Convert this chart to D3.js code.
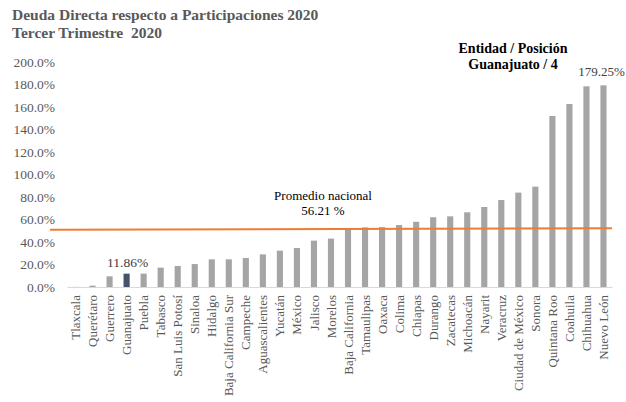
<!DOCTYPE html>
<html>
<head>
<meta charset="utf-8">
<script src="https://cdn.jsdelivr.net/npm/d3@7"></script>
<style>
  body { margin: 0; background: #fff; }
</style>
</head>
<body>
<div class="container"></div>
<script>
var estados = ["Tlaxcala", "Querétaro", "Guerrero", "Guanajuato", "Puebla", "Tabasco",
  "San Luis Potosí", "Sinaloa", "Hidalgo", "Baja California Sur", "Campeche",
  "Aguascalientes", "Yucatán", "México", "Jalisco", "Morelos", "Baja California",
  "Tamaulipas", "Oaxaca", "Colima", "Chiapas", "Durango", "Zacatecas", "Michoacán",
  "Nayarit", "Veracruz", "Ciudad de México", "Sonora", "Quintana Roo", "Coahuila",
  "Chihuahua", "Nuevo León"];
var valores = [0.1, 1.2, 9.5, 11.86, 11.9, 17.2, 18.7, 20.4, 24.6, 24.6, 25.8,
  29.0, 32.3, 34.7, 41.2, 43.0, 51.6, 53.0, 53.2, 55.1, 58.0, 62.0, 62.8, 66.4,
  71.1, 77.3, 83.9, 89.2, 152.0, 162.7, 178.4, 179.25];
var yTicks = [0, 20, 40, 60, 80, 100, 120, 140, 160, 180, 200];
var promedio = 56.21;
var lineaPromedio = 51.8; // where the orange line sits in the picture

var serif = "'Liberation Serif', 'Times New Roman', serif";
var width = 626, height = 402;
var margin = {top: 62, right: 14, bottom: 115, left: 67};

var svg = d3.select("div.container").append("svg")
    .attr("width", width)
    .attr("height", height)
    .attr("font-family", serif);

var x = d3.scaleBand()
    .domain(estados)
    .range([margin.left, width - margin.right])
    .paddingInner(0.64)
    .paddingOuter(0.32);

var y = d3.scaleLinear()
    .domain([0, 200])
    .range([height - margin.bottom, margin.top]);

// title
svg.append("text").attr("x", 12).attr("y", 20)
    .attr("font-size", 15.5).attr("font-weight", "bold").attr("fill", "#595959")
    .text("Deuda Directa respecto a Participaciones 2020");
svg.append("text").attr("x", 12).attr("y", 38)
    .attr("font-size", 15.5).attr("font-weight", "bold").attr("fill", "#595959")
    .attr("xml:space", "preserve")
    .text("Tercer Trimestre  2020");

// y axis labels
var yAxis = d3.axisLeft(y).tickValues(yTicks)
    .tickSize(0).tickPadding(0)
    .tickFormat(function(d) { return d.toFixed(1) + "%"; });
var gy = svg.append("g")
    .attr("transform", "translate(55,0)")
    .call(yAxis)
    .attr("font-family", serif);
gy.select(".domain").remove();
gy.selectAll("text")
    .attr("font-size", 13.5).attr("fill", "#595959");

// bars
svg.selectAll(".bar")
    .data(valores)
    .enter().append("rect")
    .attr("class", "bar")
    .attr("x", function(d, i) { return x(estados[i]); })
    .attr("width", x.bandwidth())
    .attr("y", function(d) { return y(d); })
    .attr("height", function(d) { return y(0) - y(d); })
    .attr("fill", function(d, i) { return estados[i] == "Guanajuato" ? "#44546A" : "#A5A5A5"; });

// x axis
var xAxis = d3.axisBottom(x).tickSize(0).tickPadding(0);
var gx = svg.append("g")
    .attr("transform", "translate(0," + y(0) + ")")
    .call(xAxis)
    .attr("font-family", serif);
gx.select(".domain").attr("stroke", "#D9D9D9").attr("stroke-width", 1);
gx.selectAll("text")
    .attr("font-size", 13).attr("fill", "#595959")
    .attr("text-anchor", "end")
    .attr("dy", "0.35em")
    .attr("transform", "translate(0,8) rotate(-90)")
    .attr("x", 0).attr("y", 0);

// average line
svg.append("line")
    .attr("x1", 50).attr("x2", width - margin.right)
    .attr("y1", y(lineaPromedio) + 1).attr("y2", y(lineaPromedio) - 0.5)
    .attr("stroke", "#ED7D31").attr("stroke-width", 2);

svg.append("text").attr("x", 323).attr("y", 200)
    .attr("text-anchor", "middle").attr("font-size", 13).attr("fill", "#000")
    .text("Promedio nacional");
svg.append("text").attr("x", 323).attr("y", 215)
    .attr("text-anchor", "middle").attr("font-size", 13).attr("fill", "#000")
    .text(promedio.toFixed(2) + " %");

// value labels
svg.append("text")
    .attr("x", x("Guanajuato") + x.bandwidth() / 2 + 1)
    .attr("y", y(valores[3]) - 7)
    .attr("text-anchor", "middle").attr("font-size", 13.5).attr("fill", "#404040")
    .text(valores[3].toFixed(2) + "%");
svg.append("text")
    .attr("x", x("Nuevo León") + x.bandwidth() / 2 - 2)
    .attr("y", y(valores[31]) - 9)
    .attr("text-anchor", "middle").attr("font-size", 13).attr("fill", "#404040")
    .text(valores[31].toFixed(2) + "%");

// position box
svg.append("text").attr("x", 513).attr("y", 53)
    .attr("text-anchor", "middle").attr("font-size", 14).attr("font-weight", "bold")
    .text("Entidad / Posición");
svg.append("text").attr("x", 513).attr("y", 69)
    .attr("text-anchor", "middle").attr("font-size", 14).attr("font-weight", "bold")
    .text("Guanajuato / 4");
</script>
</body>
</html>
